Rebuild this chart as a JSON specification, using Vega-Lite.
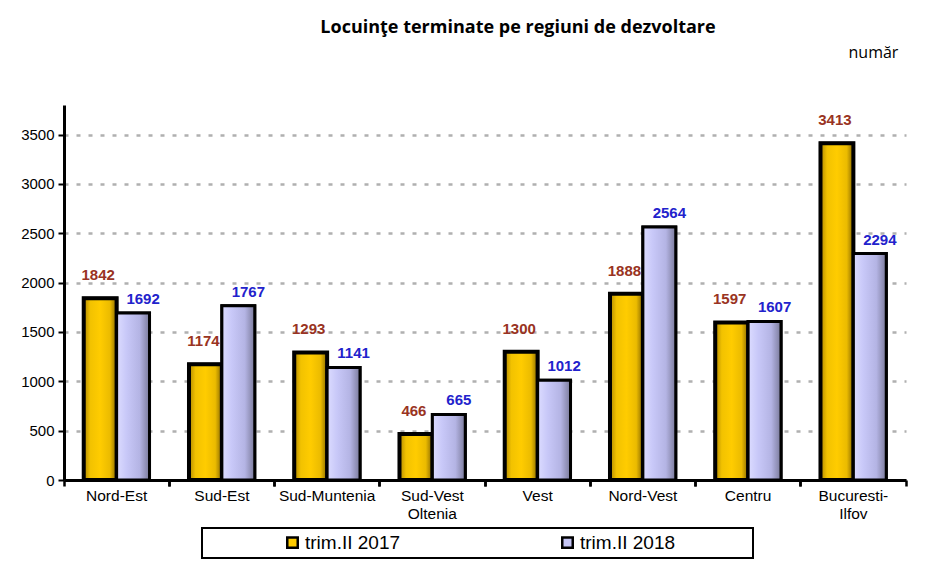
{
  "$schema": "https://vega.github.io/schema/vega-lite/v6.json",
  "width": 842,
  "height": 375,
  "autosize": {"type": "none"},
  "padding": {"left": 64, "top": 105, "right": 24, "bottom": 89},
  "background": "white",
  "title": {
    "text": "Locuinţe terminate pe regiuni de dezvoltare",
    "font": "Open Sans",
    "fontSize": 18,
    "fontWeight": "bold",
    "color": "black",
    "anchor": "middle",
    "dx": 33,
    "offset": 7
  },
  "config": {
    "view": {"stroke": null},
    "font": "Liberation Sans",
    "legend": {"strokeWidth": 2}
  },
  "data": {
    "values": [
      {"regiune": "Nord-Est", "serie": "trim.II 2017", "valoare": 1842},
      {"regiune": "Nord-Est", "serie": "trim.II 2018", "valoare": 1692},
      {"regiune": "Sud-Est", "serie": "trim.II 2017", "valoare": 1174},
      {"regiune": "Sud-Est", "serie": "trim.II 2018", "valoare": 1767},
      {"regiune": "Sud-Muntenia", "serie": "trim.II 2017", "valoare": 1293},
      {"regiune": "Sud-Muntenia", "serie": "trim.II 2018", "valoare": 1141},
      {"regiune": "Sud-Vest Oltenia", "serie": "trim.II 2017", "valoare": 466},
      {"regiune": "Sud-Vest Oltenia", "serie": "trim.II 2018", "valoare": 665},
      {"regiune": "Vest", "serie": "trim.II 2017", "valoare": 1300},
      {"regiune": "Vest", "serie": "trim.II 2018", "valoare": 1012},
      {"regiune": "Nord-Vest", "serie": "trim.II 2017", "valoare": 1888},
      {"regiune": "Nord-Vest", "serie": "trim.II 2018", "valoare": 2564},
      {"regiune": "Centru", "serie": "trim.II 2017", "valoare": 1597},
      {"regiune": "Centru", "serie": "trim.II 2018", "valoare": 1607},
      {"regiune": "Bucuresti-Ilfov", "serie": "trim.II 2017", "valoare": 3413},
      {"regiune": "Bucuresti-Ilfov", "serie": "trim.II 2018", "valoare": 2294}
    ]
  },
  "encoding": {
    "x": {
      "field": "regiune",
      "type": "nominal",
      "sort": null,
      "scale": {"paddingInner": 0, "paddingOuter": 0}
    },
    "xOffset": {
      "field": "serie",
      "type": "nominal",
      "scale": {"paddingInner": 0, "paddingOuter": 0.6}
    },
    "y": {
      "field": "valoare",
      "type": "quantitative",
      "scale": {"domain": [0, 3800], "nice": false}
    }
  },
  "layer": [
    {
      "mark": {"type": "bar", "stroke": "black", "strokeWidth": 3},
      "encoding": {
        "x": {
          "field": "regiune",
          "type": "nominal",
          "sort": null,
          "axis": {
            "orient": "bottom",
            "title": null,
            "labelAngle": 0,
            "labelFontSize": 15.5,
            "labelColor": "black",
            "labelPadding": 8,
            "labelBaseline": "top",
            "labelLineHeight": 18,
            "ticks": false,
            "domain": true,
            "domainColor": "black",
            "domainWidth": 3,
            "labelExpr": "datum.value == 'Sud-Vest Oltenia' ? ['Sud-Vest', 'Oltenia'] : datum.value == 'Bucuresti-Ilfov' ? ['Bucuresti-', 'Ilfov'] : datum.label"
          }
        },
        "y": {
          "field": "valoare",
          "type": "quantitative",
          "axis": {
            "title": "număr",
            "titleAngle": 0,
            "titleAlign": "left",
            "titleBaseline": "middle",
            "titleX": 784,
            "titleY": -53,
            "titleFont": "Open Sans",
            "titleFontSize": 16,
            "titleFontWeight": "normal",
            "titleColor": "black",
            "values": [0, 500, 1000, 1500, 2000, 2500, 3000, 3500],
            "format": "d",
            "labelFontSize": 15,
            "labelColor": "black",
            "labelPadding": 4,
            "domainColor": "black",
            "domainWidth": 3,
            "tickColor": "black",
            "tickSize": 6,
            "tickWidth": 2,
            "grid": true,
            "gridColor": "#b0b0b0",
            "gridDash": [4, 8],
            "gridWidth": 2.5
          }
        },
        "color": {
          "field": "serie",
          "type": "nominal",
          "scale": {"range": ["#FFCC00", "#C4C4F4"]},
          "legend": {
            "title": ".",
            "titleOrient": "right",
            "titleColor": "white",
            "titleFontSize": 2,
            "titlePadding": 72,
            "orient": "none",
            "legendX": 138,
            "legendY": 423,
            "direction": "horizontal",
            "symbolType": "square",
            "symbolSize": 110,
            "symbolStrokeColor": "black",
            "symbolStrokeWidth": 2.5,
            "symbolOffset": 76,
            "labelFontSize": 19,
            "labelColor": "black",
            "labelOffset": 3,
            "columnPadding": 81,
            "padding": 5,
            "strokeColor": "black",
            "labelLimit": 400
          }
        }
      }
    },
    {
      "transform": [{"filter": "datum.serie == 'trim.II 2017'"}],
      "mark": {
        "type": "bar",
        "stroke": "black",
        "strokeWidth": 4,
        "color": {
          "gradient": "linear",
          "x1": 0, "x2": 1, "y1": 0, "y2": 0,
          "stops": [
            {"offset": 0, "color": "#B08800"},
            {"offset": 0.2, "color": "#F2C200"},
            {"offset": 0.5, "color": "#FFCC00"},
            {"offset": 0.8, "color": "#EBBB00"},
            {"offset": 1, "color": "#8A6A00"}
          ]
        }
      },
      "encoding": {
        "x": {
          "field": "regiune",
          "type": "nominal",
          "sort": null,
          "axis": {
            "orient": "bottom",
            "title": null,
            "labels": false,
            "domain": false,
            "ticks": true,
            "tickColor": "black",
            "tickWidth": 2.5,
            "tickSize": 6,
            "bandPosition": 0
          }
        }
      }
    },
    {
      "transform": [{"filter": "datum.serie == 'trim.II 2018'"}],
      "mark": {
        "type": "bar",
        "stroke": "black",
        "strokeWidth": 3,
        "color": {
          "gradient": "linear",
          "x1": 0, "x2": 1, "y1": 0, "y2": 0,
          "stops": [
            {"offset": 0, "color": "#DCDCFF"},
            {"offset": 0.3, "color": "#C8C8F8"},
            {"offset": 0.7, "color": "#B4B4E4"},
            {"offset": 1, "color": "#7A7A9A"}
          ]
        }
      },
      "encoding": {
        "x": {
          "field": "regiune",
          "type": "nominal",
          "sort": null,
          "axis": {
            "orient": "bottom",
            "title": null,
            "labels": false,
            "domain": false,
            "ticks": true,
            "tickColor": "black",
            "tickWidth": 2.5,
            "tickSize": 6,
            "bandPosition": 1
          }
        }
      }
    },
    {
      "transform": [{"filter": "datum.serie == 'trim.II 2017'"}],
      "mark": {
        "type": "text",
        "font": "Liberation Sans",
        "fontSize": 15,
        "fontWeight": "bold",
        "color": "#993322",
        "baseline": "middle",
        "dy": -23,
        "dx": -2
      },
      "encoding": {
        "x": {"field": "regiune", "type": "nominal", "sort": null, "axis": null},
        "text": {"field": "valoare", "type": "quantitative"}
      }
    },
    {
      "transform": [{"filter": "datum.serie == 'trim.II 2018'"}],
      "mark": {
        "type": "text",
        "font": "Liberation Sans",
        "fontSize": 15,
        "fontWeight": "bold",
        "color": "#2222CC",
        "baseline": "middle",
        "dy": -14,
        "dx": 10
      },
      "encoding": {
        "x": {"field": "regiune", "type": "nominal", "sort": null, "axis": null},
        "text": {"field": "valoare", "type": "quantitative"}
      }
    }
  ],
  "resolve": {"axis": {"x": "independent"}}
}
